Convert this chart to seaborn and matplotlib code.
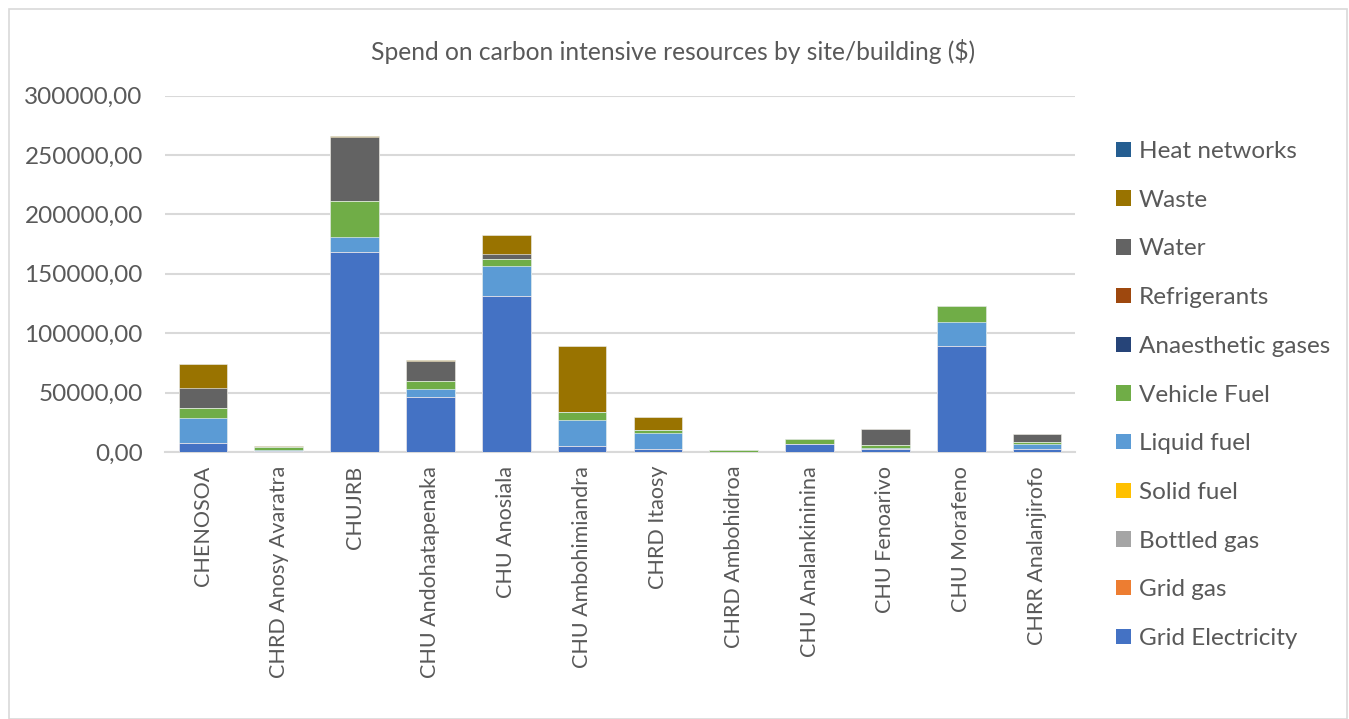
import matplotlib
matplotlib.use("Agg")
import matplotlib.pyplot as plt
import matplotlib.patches as mpatches
from matplotlib.ticker import FuncFormatter
import seaborn as sns
import pandas as pd
import numpy as np

sites = ["CHENOSOA", "CHRD Anosy Avaratra", "CHUJRB", "CHU Andohatapenaka", "CHU Anosiala",
         "CHU Ambohimiandra", "CHRD Itaosy", "CHRD Ambohidroa", "CHU Analankininina",
         "CHU Fenoarivo", "CHU Morafeno", "CHRR Analanjirofo"]

grid_electricity = [7300, 500, 168000, 46500, 131000, 5300, 2300, 0, 7000, 2300, 89500, 2800]
grid_gas = [0, 0, 0, 0, 0, 0, 0, 0, 0, 0, 0, 0]
bottled_gas = [0, 0, 0, 0, 0, 0, 0, 0, 0, 0, 0, 0]
solid_fuel = [0, 0, 0, 0, 0, 0, 0, 0, 0, 0, 0, 0]
liquid_fuel = [21100, 1000, 13000, 6800, 25500, 21300, 13400, 300, 0, 1000, 20200, 4200]
vehicle_fuel = [8900, 2500, 30000, 6400, 5600, 7100, 2800, 1300, 3900, 2600, 13200, 1700]
anaesthetic_gases = [0, 0, 0, 0, 0, 0, 0, 0, 0, 0, 0, 0]
refrigerants = [0, 0, 0, 0, 0, 0, 0, 0, 0, 0, 0, 0]
water = [16800, 0, 53800, 16600, 4200, 0, 0, 0, 0, 13200, 0, 6200]
waste = [19700, 1000, 1400, 700, 16000, 55200, 11200, 0, 0, 0, 0, 0]
heat_networks = [0, 0, 0, 0, 0, 0, 0, 0, 0, 0, 0, 0]

series_names = ["Grid Electricity", "Grid gas", "Bottled gas", "Solid fuel", "Liquid fuel",
                "Vehicle Fuel", "Anaesthetic gases", "Refrigerants", "Water", "Waste", "Heat networks"]
series_values = [grid_electricity, grid_gas, bottled_gas, solid_fuel, liquid_fuel, vehicle_fuel,
                 anaesthetic_gases, refrigerants, water, waste, heat_networks]
colors = ["#4472C4", "#ED7D31", "#A5A5A5", "#FFC000", "#5B9BD5", "#70AD47",
          "#264478", "#9E480E", "#636363", "#997300", "#255E91"]

sns.set_theme(style="white")
plt.rcParams["font.family"] = ["Lato", "DejaVu Sans"]
txt = "#595959"

fig = plt.figure(figsize=(13.49, 7.19), dpi=100)
ax = fig.add_axes([165/1349, 1-452/719, 910/1349, (452-95.5)/719])

vals = np.array(series_values, dtype=float)
cum = np.cumsum(vals, axis=0)

# draw from top of stack downwards so each layer covers the one below
for i in range(len(series_names) - 1, -1, -1):
    df = pd.DataFrame({"site": sites, "value": cum[i]})
    sns.barplot(data=df, x="site", y="value", order=sites, color=colors[i], saturation=1,
                width=0.643, edgecolor="white", linewidth=0.4, ax=ax, zorder=3)

ax.set_ylim(0, 300000)
ax.set_xlim(-0.5, len(sites) - 0.5)
ax.set_yticks(np.arange(0, 300001, 50000))
ax.yaxis.set_major_formatter(FuncFormatter(lambda v, p: f"{v:.2f}".replace(".", ",")))
ax.grid(axis="y", color="#D9D9D9", linewidth=1.5, zorder=0)
ax.set_axisbelow(True)
for s in ["top", "right", "left"]:
    ax.spines[s].set_visible(False)
ax.spines["bottom"].set_color("#D9D9D9")
ax.spines["bottom"].set_linewidth(1.5)
ax.set_xlabel("")
ax.set_ylabel("")
ax.tick_params(axis="y", length=0, pad=16, labelsize=17.5, labelcolor=txt)
ax.tick_params(axis="x", length=0, pad=10, labelsize=15.5, labelcolor=txt)
plt.setp(ax.get_xticklabels(), rotation=90)

fig.text(0.499, 1-52/719, "Spend on carbon intensive resources by site/building ($)",
         ha="center", va="center", fontsize=17.7, color=txt)

handles = [mpatches.Patch(facecolor=colors[i], edgecolor="none", label=series_names[i])
           for i in range(len(series_names) - 1, -1, -1)]
leg = fig.legend(handles=handles, loc="center left", bbox_to_anchor=(1116/1349, 1-395/719),
                 frameon=False, fontsize=17.5, labelspacing=1.14, handlelength=0.6,
                 handleheight=0.6, handletextpad=0.35, borderpad=0, borderaxespad=0)
for t in leg.get_texts():
    t.set_color(txt)

fig.patches.append(mpatches.Rectangle((9/1349, 0), 1338/1349, 1-9/719, transform=fig.transFigure,
                                      fill=False, edgecolor="#D9D9D9", linewidth=1.2))

fig.savefig("out.png", dpi=100)
